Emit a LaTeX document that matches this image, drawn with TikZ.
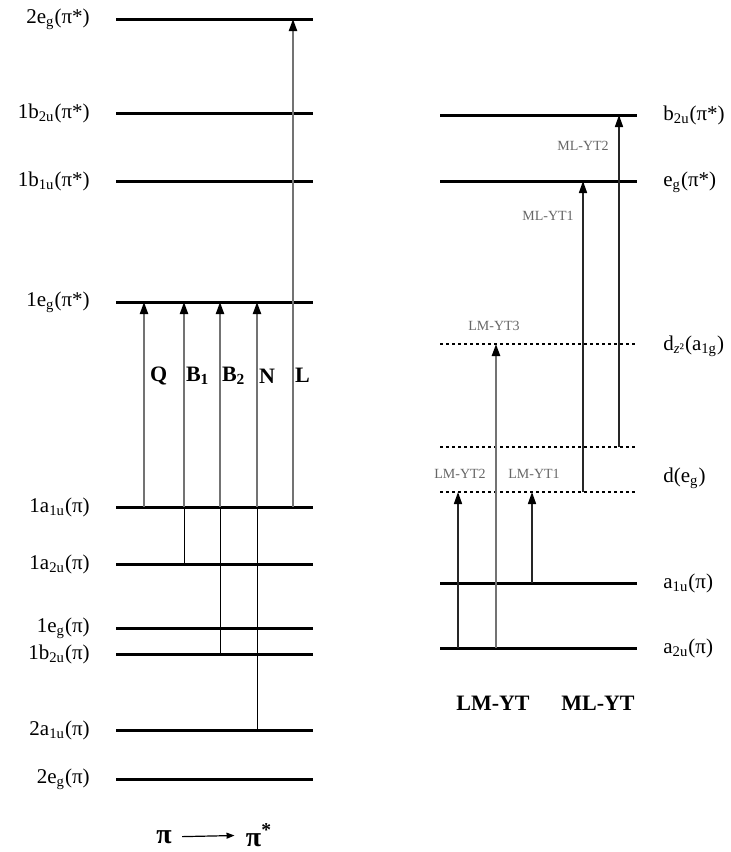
\documentclass[tikz,border=0pt]{standalone}
\usepackage{fontspec}
\setmainfont{Liberation Serif}
\usetikzlibrary{arrows.meta}

\begin{document}
\begin{tikzpicture}[
    x=0.5pt,y=-0.5pt,
    level/.style={line width=1.5pt},
    dlevel/.style={line width=1.4pt,dash pattern=on 1.5pt off 1.5pt},
    lvl/.style={font=\fontsize{10.5}{12}\selectfont,inner sep=0pt},
    trans/.style={line width=1pt,black!55,-{Triangle[length=6pt,width=4pt,black]}},
    dtrans/.style={line width=0.8pt,black!85,-{Triangle[length=6pt,width=4pt,black]}},
    feed/.style={line width=0.5pt,black},
    tlab/.style={font=\bfseries\fontsize{11}{13}\selectfont,inner sep=0.5pt,text=black},
    slab/.style={font=\fontsize{7}{8}\selectfont,gray!80!black,inner sep=0pt}
]
\useasboundingbox (0,0) rectangle (731,852);

% left: porphyrin pi levels
\node[lvl,anchor=east] (t2egs) at (90,19) {2e\textsubscript{g}(π*)};
\node[lvl,anchor=east] (t1b2us) at (90,113) {1b\textsubscript{2u}(π*)};
\node[lvl,anchor=east] (t1b1us) at (90,181) {1b\textsubscript{1u}(π*)};
\node[lvl,anchor=east] (t1egs) at (90,302) {1e\textsubscript{g}(π*)};
\node[lvl,anchor=east] (t1a1u) at (90,507) {1a\textsubscript{1u}(π)};
\node[lvl,anchor=east] (t1a2u) at (90,564) {1a\textsubscript{2u}(π)};
\node[lvl,anchor=east] (t1eg) at (90,628) {1e\textsubscript{g}(π)};
\node[lvl,anchor=east] (t1b2u) at (90,654) {1b\textsubscript{2u}(π)};
\node[lvl,anchor=east] (t2a1u) at (90,730) {2a\textsubscript{1u}(π)};
\node[lvl,anchor=east] (t2eg) at (90,779) {2e\textsubscript{g}(π)};

\draw[level] (116,19) coordinate (a2egs) -- (313,19);
\draw[level] (116,113) coordinate (a1b2us) -- (313,113);
\draw[level] (116,181) coordinate (a1b1us) -- (313,181);
\draw[level] (116,302) coordinate (a1egs) -- (313,302);
\draw[level] (116,507) coordinate (a1a1u) -- (313,507);
\draw[level] (116,564) coordinate (a1a2u) -- (313,564);
\draw[level] (116,628) coordinate (a1eg) -- (313,628);
\draw[level] (116,654) coordinate (a1b2u) -- (313,654);
\draw[level] (116,730) coordinate (a2a1u) -- (313,730);
\draw[level] (116,779) coordinate (a2eg) -- (313,779);

\coordinate (cQ) at (144,0);
\coordinate (cB1) at (184,0);
\coordinate (cB2) at (220,0);
\coordinate (cN) at (257,0);
\coordinate (cL) at (293,0);

\draw[feed] (cB1 |- a1a2u) -- (cB1 |- a1a1u);
\draw[feed] (cB2 |- a1b2u) -- (cB2 |- a1a1u);
\draw[feed] (cN |- a2a1u) -- (cN |- a1a1u);

\draw[trans] (cQ |- a1a1u) -- (cQ |- a1egs) node[tlab,pos=0.64,right,xshift=2pt] {Q};
\draw[trans] (cB1 |- a1a1u) -- (cB1 |- a1egs) node[tlab,pos=0.64,right] {B\textsubscript{1}};
\draw[trans] (cB2 |- a1a1u) -- (cB2 |- a1egs) node[tlab,pos=0.64,right] {B\textsubscript{2}};
\draw[trans] (cN |- a1a1u) -- (cN |- a1egs) node[tlab,pos=0.64,right] {N};
\draw[trans] (cL |- a1a1u) -- (cL |- a2egs) node[tlab,pos=0.27,right] {L};

\node[tlab,font=\bfseries\fontsize{14}{16}\selectfont] (pi) at (164,837) {π};
\node[tlab,font=\bfseries\fontsize{14}{16}\selectfont] (pis) at (259,835) {π\textsuperscript{*}};
\draw[line width=0.6pt,-{Triangle[length=4pt,width=3pt]},shorten <=4.5pt,shorten >=5pt] (pi) -- (pis);

% right: metal d levels
\node[lvl,anchor=west] (tb2u) at (663,115) {b\textsubscript{2u}(π*)};
\node[lvl,anchor=west] (tegs) at (663,182) {e\textsubscript{g}(π*)};
\node[lvl,anchor=west] (tdz) at (663,346) {d\textsubscript{\textit{z}²}(a\textsubscript{1g})};
\node[lvl,anchor=west] (tdeg) at (663,478) {d(e\textsubscript{g})};
\node[lvl,anchor=west] (ta1u) at (663,583) {a\textsubscript{1u}(π)};
\node[lvl,anchor=west] (ta2u) at (663,648) {a\textsubscript{2u}(π)};

\draw[level] (440,115) coordinate (rb2u) -- (637,115);
\draw[level] (440,181) coordinate (regs) -- (637,181);
\draw[dlevel] (440,344) coordinate (rdz) -- (637,344);
\draw[dlevel] (440,447) coordinate (rdmid) -- (637,447);
\draw[dlevel] (440,492) coordinate (rdeg) -- (637,492);
\draw[level] (440,583) coordinate (ra1u) -- (637,583);
\draw[level] (440,648) coordinate (ra2u) -- (637,648);

\coordinate (cLM2) at (458,0);
\coordinate (cLM3) at (496,0);
\coordinate (cLM1) at (532,0);
\coordinate (cML1) at (583,0);
\coordinate (cML2) at (619,0);

\draw[dtrans] (cLM2 |- ra2u) -- (cLM2 |- rdeg);
\draw[trans,line width=1.2pt] (cLM3 |- ra2u) -- (cLM3 |- rdz);
\draw[dtrans] (cLM1 |- ra1u) -- (cLM1 |- rdeg);
\draw[dtrans] (cML1 |- rdeg) -- (cML1 |- regs);
\draw[dtrans] (cML2 |- rdmid) -- (cML2 |- rb2u);

\node[slab] (lml2) at (583,146) {ML-YT2};
\node[slab] (lml1) at (548,216) {ML-YT1};
\node[slab] (llm3) at (494,326) {LM-YT3};
\node[slab] (llm2) at (460,474) {LM-YT2};
\node[slab] (llm1) at (534,474) {LM-YT1};

\node[tlab] (lmyt) at (493,703) {LM-YT};
\node[tlab] (mlyt) at (598,703) {ML-YT};
\end{tikzpicture}
\end{document}
